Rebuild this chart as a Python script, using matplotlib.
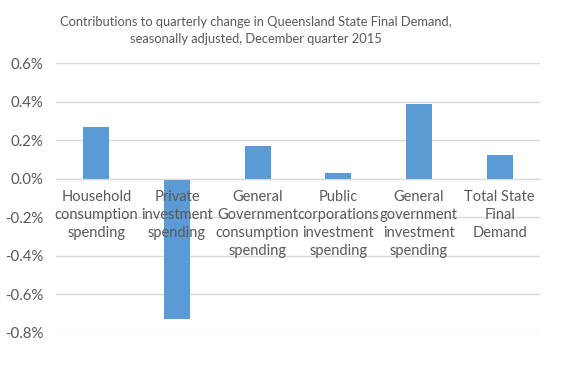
import matplotlib.pyplot as plt
from matplotlib.ticker import FuncFormatter

categories = ["Household\nconsumption\nspending",
              "Private\ninvestment\nspending",
              "General\nGovernment\nconsumption\nspending",
              "Public\ncorporations\ninvestment\nspending",
              "General\ngovernment\ninvestment\nspending",
              "Total State\nFinal\nDemand"]
values = [0.267, -0.73, 0.169, 0.029, 0.387, 0.122]
yticks = [-0.8, -0.6, -0.4, -0.2, 0.0, 0.2, 0.4, 0.6]

plt.rcParams["font.family"] = ["Lato", "DejaVu Sans"]
text_col = "#595959"

fig = plt.figure(figsize=(5.66, 3.70), dpi=100)
ax = fig.add_axes([0.099, 0.1008, 0.855, 0.7282])

x = range(len(categories))
# gridlines behind bars, tick labels on top of bars (as in excel)
for t in yticks:
    ax.axhline(t, color="#d9d9d9", linewidth=1, zorder=0.5)
ax.bar(x, values, width=0.32, color="#5b9bd5", zorder=1)
ax.set_xlim(-0.5, len(categories) - 0.5)
ax.set_ylim(-0.8, 0.6)
ax.set_yticks(yticks)
ax.yaxis.set_major_formatter(FuncFormatter(lambda v, p: "%.1f%%" % v))
for s in ["left", "right", "top"]:
    ax.spines[s].set_visible(False)
ax.spines["bottom"].set_position(("data", 0))
ax.spines["bottom"].set_color("#d9d9d9")
ax.set_xticks(list(x))
ax.set_xticklabels(categories, linespacing=1.38, va="top")
ax.tick_params(axis="x", length=0, pad=8, labelsize=10.5, colors=text_col)
ax.tick_params(axis="y", length=0, pad=9, labelsize=10.8, colors=text_col)

fig.text(0.452, 0.918, "Contributions to quarterly change in Queensland State Final Demand,\nseasonally adjusted, December quarter 2015",
         ha="center", va="center", multialignment="center", fontsize=9.3, color=text_col, linespacing=1.45)

fig.savefig("out.png", dpi=100)
